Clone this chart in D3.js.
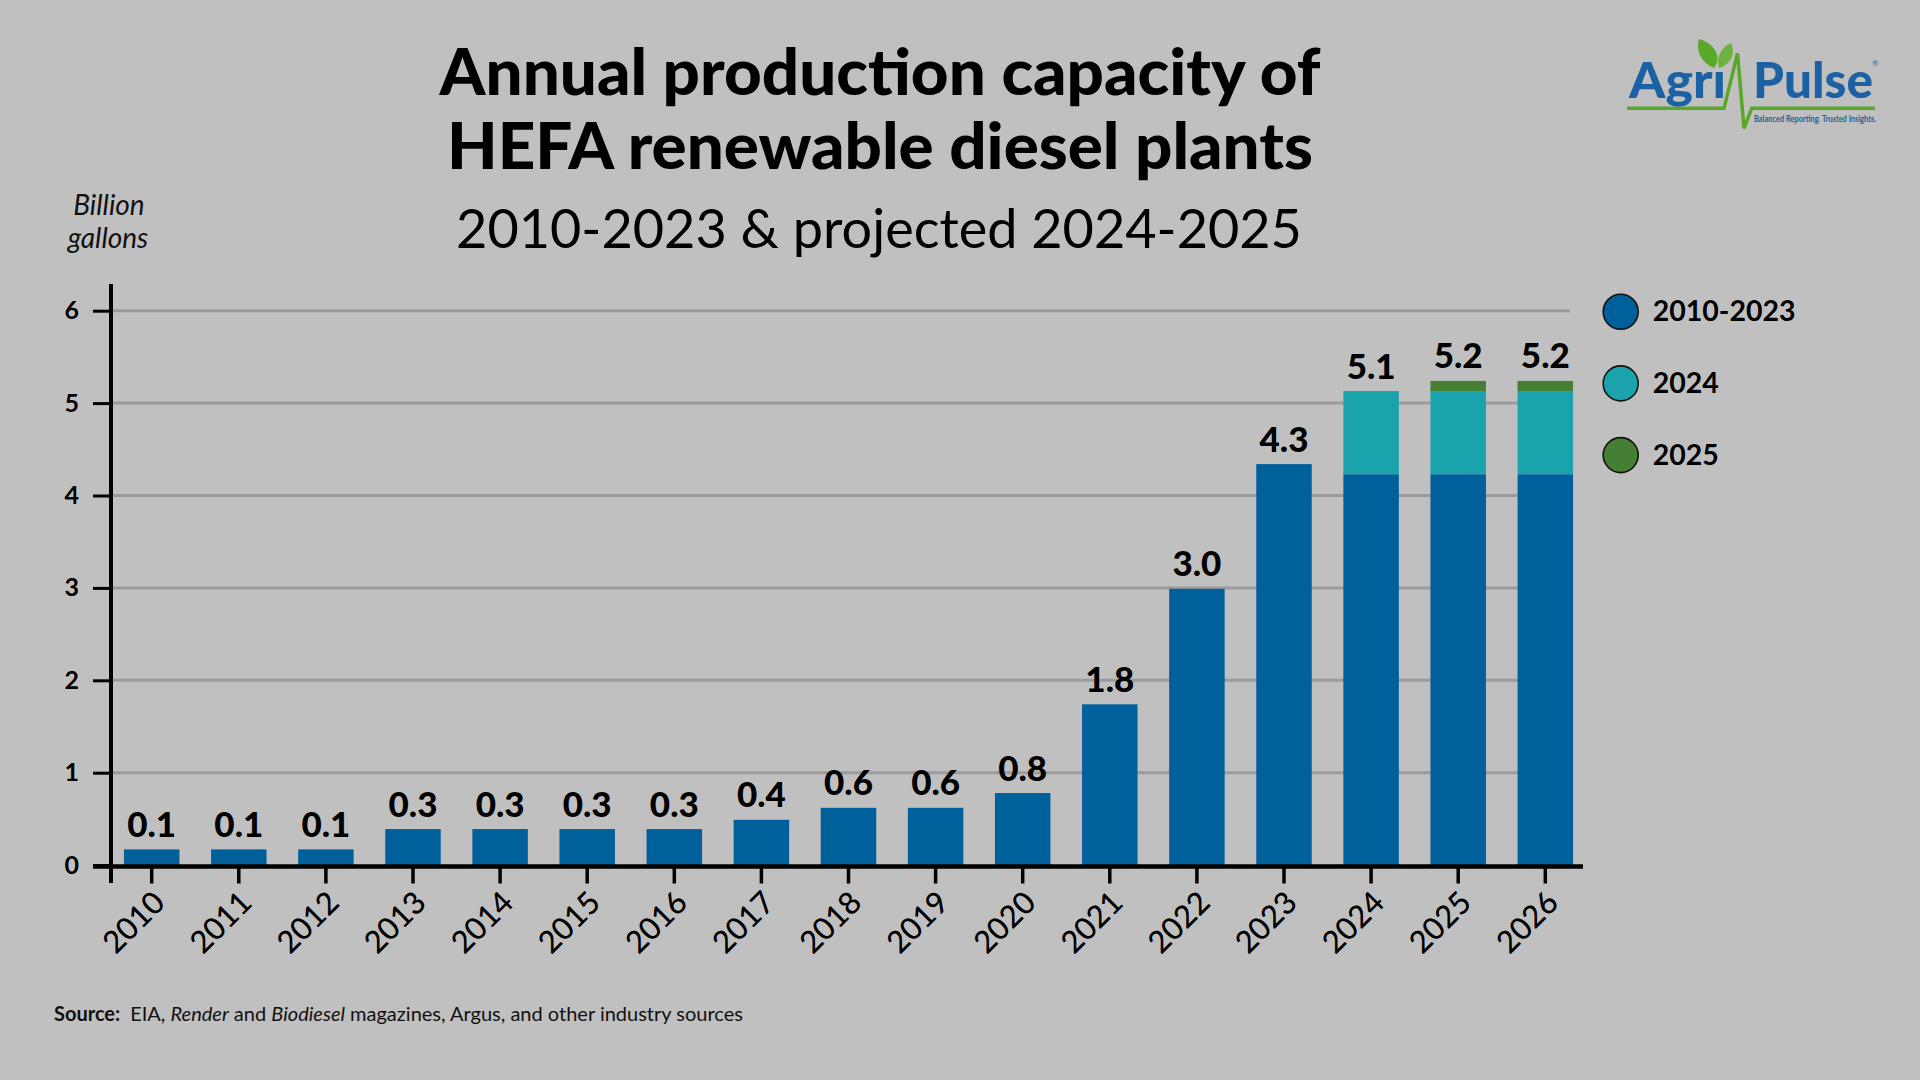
<!DOCTYPE html>
<html>
<head>
<meta charset="utf-8">
<script src="https://cdn.jsdelivr.net/npm/d3@7"></script>
<style>
  html, body { margin: 0; padding: 0; background: #c0c0c0; }
  svg { display: block; font-family: Lato, "Open Sans", sans-serif; }
</style>
</head>
<body>
<svg id="chart" width="1920" height="1080"></svg>
<script>
// ---- Data ----
const years = ["2010","2011","2012","2013","2014","2015","2016","2017","2018","2019","2020","2021","2022","2023","2024","2025","2026"];
const capacity2010to2023 = [0.17,0.17,0.17,0.39,0.39,0.39,0.39,0.49,0.62,0.62,0.78,1.74,2.99,4.34,4.23,4.23,4.23];
const added2024 = [0,0,0,0,0,0,0,0,0,0,0,0,0,0,0.90,0.90,0.90];
const added2025 = [0,0,0,0,0,0,0,0,0,0,0,0,0,0,0,0.11,0.11];
const valueLabels = ["0.1","0.1","0.1","0.3","0.3","0.3","0.3","0.4","0.6","0.6","0.8","1.8","3.0","4.3","5.1","5.2","5.2"];
const yTicks = [0,1,2,3,4,5,6];
const seriesNames = ["2010-2023","2024","2025"];
const seriesColors = ["#00609c","#1ba3ad","#447f33"];

// ---- Setup ----
const svg = d3.select("#chart");
svg.append("rect").attr("width",1920).attr("height",1080).attr("fill","#c0c0c0");

const x = d3.scaleBand().domain(years).range([108.15, 1588.85]).paddingInner(0.363).paddingOuter(0.1815);
const y = d3.scaleLinear().domain([0, 6]).range([865.1, 310.7]);
const color = d3.scaleOrdinal().domain(seriesNames).range(seriesColors);

const rows = years.map((yr, i) => ({
  year: yr,
  "2010-2023": capacity2010to2023[i],
  "2024": added2024[i],
  "2025": added2025[i],
  label: valueLabels[i]
}));
const stacked = d3.stack().keys(seriesNames)(rows);

// ---- Titles ----
svg.append("text").attr("x", 880).attr("y", 95).attr("text-anchor","middle")
  .attr("font-size", 65.5).attr("font-weight", 900).attr("fill","#000")
  .text("Annual production capacity of");
svg.append("text").attr("x", 880).attr("y", 169).attr("text-anchor","middle")
  .attr("font-size", 65.5).attr("font-weight", 900).attr("fill","#000")
  .text("HEFA renewable diesel plants");
svg.append("text").attr("x", 879).attr("y", 248).attr("text-anchor","middle")
  .attr("font-size", 54).attr("font-weight", 400).attr("fill","#000")
  .text("2010-2023 & projected 2024-2025");

// y label
svg.append("text").attr("x", 109).attr("y", 215).attr("text-anchor","middle")
  .attr("font-size", 28).attr("font-style","italic").attr("fill","#111").text("Billion");
svg.append("text").attr("x", 108).attr("y", 248).attr("text-anchor","middle")
  .attr("font-size", 28).attr("font-style","italic").attr("fill","#111").text("gallons");

// ---- Gridlines ----
svg.append("g").selectAll("line").data(yTicks.filter(d => d > 0)).join("line")
  .attr("x1", 111).attr("x2", 1570)
  .attr("y1", d => y(d)).attr("y2", d => y(d))
  .attr("stroke", "#9b9b9b").attr("stroke-width", 3);

// ---- Bars ----
svg.append("g").selectAll("g").data(stacked).join("g")
  .attr("fill", d => color(d.key))
  .selectAll("rect").data(d => d).join("rect")
  .attr("x", d => x(d.data.year))
  .attr("width", x.bandwidth())
  .attr("y", d => y(d[1]))
  .attr("height", d => Math.max(0, y(d[0]) - y(d[1])));

// value labels
const totals = rows.map(r => seriesNames.reduce((s,k) => s + r[k], 0));
svg.append("g").selectAll("text").data(rows).join("text")
  .attr("x", d => x(d.year) + x.bandwidth()/2)
  .attr("y", (d,i) => y(totals[i]) - 12.5)
  .attr("text-anchor","middle").attr("font-size", 35).attr("font-weight", 900)
  .attr("fill","#000").text(d => d.label);

// ---- Axes ----
// y axis
const yAxis = d3.axisLeft(y).tickValues(yTicks).tickSize(18).tickPadding(14).tickFormat(d3.format("d"));
const gy = svg.append("g").attr("transform","translate(111,0)").call(yAxis);
gy.select(".domain").remove();
gy.selectAll(".tick line").attr("stroke","#000").attr("stroke-width",3);
gy.selectAll(".tick text").attr("font-size",25).attr("font-weight",700).attr("fill","#000")
  .attr("font-family","Lato, sans-serif");
svg.append("line").attr("x1",111).attr("x2",111).attr("y1",284).attr("y2",883)
  .attr("stroke","#000").attr("stroke-width",4);

// x axis
const xAxis = d3.axisBottom(x).tickSize(17).tickSizeOuter(0).tickFormat(d => d);
const gx = svg.append("g").attr("transform","translate(0,866.5)").call(xAxis);
gx.select(".domain").remove();
gx.selectAll(".tick line").attr("stroke","#000").attr("stroke-width",3.5);
gx.selectAll(".tick text")
  .attr("font-size",31).attr("font-weight",500).attr("fill","#000").attr("font-family","Lato, sans-serif")
  .attr("text-anchor","end").attr("dy",null).attr("y",null)
  .attr("transform","translate(15,38) rotate(-45)");
svg.append("line").attr("x1",93).attr("x2",1583).attr("y1",866.5).attr("y2",866.5)
  .attr("stroke","#000").attr("stroke-width",4.5);

// ---- Legend ----
const lg = svg.append("g").selectAll("g").data(seriesNames).join("g")
  .attr("transform",(d,i) => `translate(1620.7,${311.7 + i*71.7})`);
lg.append("circle").attr("r",17.5).attr("fill",d => color(d)).attr("stroke","#111").attr("stroke-width",1.6);
lg.append("text").attr("x",32).attr("y",9.5).attr("font-size",28.5).attr("font-weight",700)
  .attr("fill","#000").text(d => d);

// ---- Source ----
const src = svg.append("text").attr("x",54).attr("y",1021).attr("font-size",20).attr("fill","#111");
src.append("tspan").attr("font-weight",700).text("Source:");
src.append("tspan").attr("dx",10).text("EIA, ");
src.append("tspan").attr("font-style","italic").text("Render");
src.append("tspan").text(" and ");
src.append("tspan").attr("font-style","italic").text("Biodiesel");
src.append("tspan").text(" magazines, Argus, and other industry sources");

// ---- Logo ----
const logo = svg.append("g");
const blue = "#1b61a3", green = "#5aa829";
logo.append("path")
  .attr("d","M1627,108.3 L1724,108.3 L1737.5,53.3 L1744,128.3 L1751.7,108.3 L1875,108.3")
  .attr("fill","none").attr("stroke",green).attr("stroke-width",3.5).attr("stroke-linejoin","miter");
logo.append("path").attr("d","M1714,68 C1700,62 1696,50 1699,39 C1716,44 1722,58 1714,68 Z").attr("fill",green);
logo.append("path").attr("d","M1719,68 C1716,58 1720,48 1731,43 C1736,54 1731,64 1719,68 Z").attr("fill","#6db33f");
logo.append("text").attr("x",1629).attr("y",98).attr("font-size",50).attr("font-weight",900)
  .attr("fill",blue).attr("textLength",97).attr("lengthAdjust","spacingAndGlyphs").text("Agr\u0131");
logo.append("text").attr("x",1753).attr("y",98).attr("font-size",50).attr("font-weight",900)
  .attr("fill",blue).attr("textLength",120).attr("lengthAdjust","spacingAndGlyphs").text("Pulse");
logo.append("text").attr("x",1872).attr("y",66).attr("font-size",8).attr("fill",blue).text("®");
logo.append("text").attr("x",1754).attr("y",121.7).attr("font-size",9).attr("font-weight",700)
  .attr("fill",blue).attr("textLength",122).attr("lengthAdjust","spacingAndGlyphs")
  .text("Balanced Reporting. Trusted Insights.");
</script>
</body>
</html>
